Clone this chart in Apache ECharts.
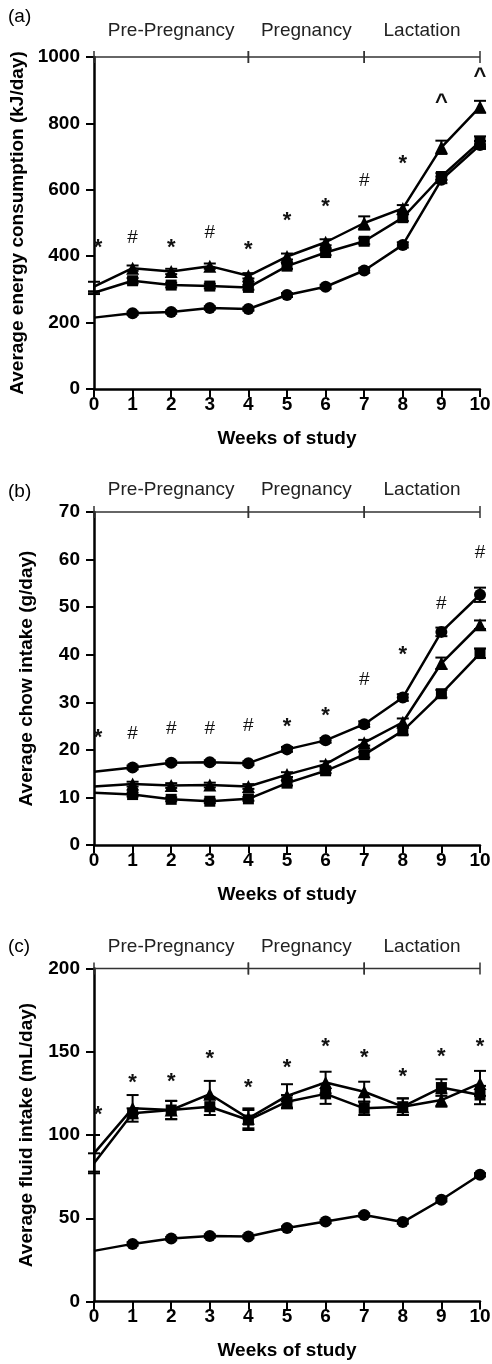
<!DOCTYPE html>
<html><head><meta charset="utf-8">
<script src="https://cdn.jsdelivr.net/npm/echarts@6/dist/echarts.min.js"></script>
<style>html,body{margin:0;padding:0;background:#fff}#c{width:492px;height:1364px}</style>
</head><body><div id="c"></div>
<script>
// ---------- data ----------
const weeks = [0,1,2,3,4,5,6,7,8,9,10];
const phaseNames = ['Pre-Pregnancy','Pregnancy','Lactation'];
const phaseBounds = [0,4,7,10];
const panelLetters = ['(a)','(b)','(c)'];
const yNames = ['Average energy consumption (kJ/day)','Average chow intake (g/day)','Average fluid intake (mL/day)'];
const xName = 'Weeks of study';
const yMaxes = [1000,70,200];
const yIntervals = [200,10,50];

// (a) energy consumption (kJ/day)
const energyCircle   = [215,228,232,244,241,283,308,357,434,630,735];
const energyCircleErr= [0,5,5,5,5,6,6,7,8,10,12];
const energySquare   = [290,326,313,310,306,370,411,445,516,640,745];
const energySquareErr= [4,8,7,7,7,8,8,9,10,10,16];
const energyTri      = [308,364,354,370,341,399,442,500,544,728,850];
const energyTriErr   = [15,8,8,8,8,9,9,20,10,20,18];
const energyNotes    = ['*','#','*','#','*','*','*','#','*','^','^'];
const energyNoteY    = [440,457,440,470,435,520,563,626,694,877,955];

// (b) chow intake (g/day)
const chowCircle   = [15.4,16.3,17.3,17.4,17.2,20.1,22.0,25.4,31.0,44.8,52.6];
const chowCircleErr= [0,0.4,0.4,0.4,0.4,0.5,0.5,0.6,0.7,0.9,1.5];
const chowSquare   = [11.0,10.6,9.6,9.2,9.7,13.0,15.6,19.0,24.0,31.8,40.3];
const chowSquareErr= [0,0.4,0.4,0.4,0.4,0.5,0.5,0.6,0.8,0.8,1.0];
const chowTri      = [12.3,12.8,12.5,12.6,12.3,14.8,17.0,21.5,25.8,38.2,46.3];
const chowTriErr   = [0,0.5,0.5,0.5,0.5,0.5,0.6,0.6,0.8,1.2,0.9];
const chowNotes    = ['*','#','#','#','#','*','*','#','*','#','#'];
const chowNoteY    = [23.5,23.3,24.4,24.4,25.0,25.9,28.2,34.7,41.1,50.8,61.5];

// (c) fluid intake (mL/day)
const fluidCircle   = [30.4,34.6,37.8,39.3,39.0,44.1,48.0,51.9,47.7,61.1,76.1];
const fluidCircleErr= [0,1,1,1,1,1,1,1,1,1,1];
const fluidSquare   = [83,113,115,117,109,120,124.7,116,117,128.5,124];
const fluidSquareErr= [6,3,5.5,5,6,4,6,4,5,5,5.5];
const fluidTri      = [89,116,115,124.5,110,123.5,131.5,126,117,121,131];
const fluidTriErr   = [11,8,5.5,8,6,7,6.5,6,5,4,7.5];
const fluidNotes    = ['*','*','*','*','*','*','*','*','*','*','*'];
const fluidNoteY    = [115,134,135,148.7,131,143.5,156,149.5,138,150,156];

// ---------- layout / style ----------
const FONT = "'Liberation Sans', Arial, Helvetica, sans-serif";
const gridTops = [57,512,968.5];
const gridHeights = [332,333,333];
const phaseTextGap = [26,22.5,22];
const letterTops = [7,482,937];

const panels = [
  {c:energyCircle,ce:energyCircleErr,s:energySquare,se:energySquareErr,t:energyTri,te:energyTriErr,n:energyNotes,ny:energyNoteY},
  {c:chowCircle,ce:chowCircleErr,s:chowSquare,se:chowSquareErr,t:chowTri,te:chowTriErr,n:chowNotes,ny:chowNoteY},
  {c:fluidCircle,ce:fluidCircleErr,s:fluidSquare,se:fluidSquareErr,t:fluidTri,te:fluidTriErr,n:fluidNotes,ny:fluidNoteY}
];

const grids=[], xAxes=[], yAxes=[], series=[], titles=[];

function lineSeries(i, vals, symbol, size){
  return {
    type:'line', xAxisIndex:i, yAxisIndex:i, symbol:symbol, symbolSize:size,
    lineStyle:{color:'#000', width:2.5}, itemStyle:{color:'#000'},
    showAllSymbol:true, animation:false, z:3,
    data: weeks.map((w,j)=> j===0 ? {value:[w,vals[j]], symbol:'none'} : [w, vals[j]])
  };
}
function errSeries(i, vals, errs){
  return {
    type:'custom', xAxisIndex:i, yAxisIndex:i, animation:false, z:4, clip:false,
    data: weeks.map((w,j)=>[w, vals[j]-errs[j], vals[j]+errs[j]]),
    renderItem:function(params, api){
      const x = api.value(0);
      if (api.value(2) - api.value(1) <= 0) return null;
      const lo = api.coord([x, api.value(1)]);
      const hi = api.coord([x, api.value(2)]);
      const hw = 6;
      const st = {stroke:'#000', lineWidth:2};
      return {type:'group', children:[
        {type:'line', shape:{x1:lo[0],y1:lo[1],x2:hi[0],y2:hi[1]}, style:st},
        {type:'line', shape:{x1:lo[0]-hw,y1:lo[1],x2:lo[0]+hw,y2:lo[1]}, style:st},
        {type:'line', shape:{x1:hi[0]-hw,y1:hi[1],x2:hi[0]+hw,y2:hi[1]}, style:st}
      ]};
    }
  };
}

panels.forEach((p,i)=>{
  grids.push({left:94, width:386, top:gridTops[i], height:gridHeights[i], containLabel:false, outerBoundsMode:'none'});
  xAxes.push({
    type:'value', gridIndex:i, min:0, max:10, interval:1,
    axisLine:{show:true, onZero:false, lineStyle:{color:'#000', width:2.5}},
    axisTick:{show:true, length:8, lineStyle:{color:'#000', width:2}},
    axisLabel:{fontSize:19, fontWeight:'bold', color:'#000', margin:6, fontFamily:FONT, formatter:(v)=>String(v)},
    splitLine:{show:false},
    name:xName, nameLocation:'middle', nameGap:40,
    nameTextStyle:{fontSize:19, fontWeight:'bold', color:'#000', fontFamily:FONT}
  });
  yAxes.push({
    type:'value', gridIndex:i, min:0, max:yMaxes[i], interval:yIntervals[i],
    axisLine:{show:true, lineStyle:{color:'#000', width:2.5}},
    axisTick:{show:true, length:8, lineStyle:{color:'#000', width:2}},
    axisLabel:{fontSize:19, fontWeight:'bold', color:'#000', margin:14, fontFamily:FONT, formatter:(v)=>String(v)},
    splitLine:{show:false},
    name:yNames[i], nameLocation:'middle', nameGap:58,
    nameTextStyle:{fontSize:19, fontWeight:'bold', color:'#000', fontFamily:FONT}
  });
  titles.push({text:panelLetters[i], left:8, top:letterTops[i], padding:0,
    textStyle:{fontSize:19, fontWeight:'normal', color:'#000', fontFamily:FONT}});

  series.push(lineSeries(i, p.c, 'circle', 12));
  series.push(lineSeries(i, p.s, 'rect', 11));
  series.push(lineSeries(i, p.t, 'triangle', 13));
  series.push(errSeries(i, p.c, p.ce));
  series.push(errSeries(i, p.s, p.se));
  series.push(errSeries(i, p.t, p.te));

  // phase bracket
  const yTop = yMaxes[i];
  const gap = phaseTextGap[i];
  series.push({
    type:'custom', xAxisIndex:i, yAxisIndex:i, animation:false, z:2, clip:false,
    data: phaseNames.map((n,k)=>[phaseBounds[k], phaseBounds[k+1]]),
    renderItem:function(params, api){
      const a = api.coord([api.value(0), yTop]);
      const b = api.coord([api.value(1), yTop]);
      const st = {stroke:'#333', lineWidth:1.5};
      return {type:'group', children:[
        {type:'line', shape:{x1:a[0],y1:a[1],x2:b[0],y2:b[1]}, style:st},
        {type:'line', shape:{x1:a[0],y1:a[1]-6,x2:a[0],y2:a[1]+6}, style:st},
        {type:'line', shape:{x1:b[0],y1:b[1]-6,x2:b[0],y2:b[1]+6}, style:st},
        {type:'text', x:(a[0]+b[0])/2, y:a[1]-gap, style:{text:phaseNames[params.dataIndex],
          font:'19px '+FONT, fill:'#222', textAlign:'center', textVerticalAlign:'middle'}}
      ]};
    }
  });
  // significance annotations
  const notes = p.n;
  series.push({
    type:'custom', xAxisIndex:i, yAxisIndex:i, animation:false, z:5, clip:false,
    data: weeks.map((w,j)=>[w, p.ny[j]]),
    renderItem:function(params, api){
      const pt = api.coord([api.value(0), api.value(1)]);
      const ch = notes[params.dataIndex];
      const dy = ch==='*' ? 5 : (ch==='^' ? 5 : 0);
      const dx = params.dataIndex===0 ? 4 : 0;
      const font = ch==='*' ? 'bold 22px ' : (ch==='^' ? 'bold 22px ' : '19px ');
      return {type:'text', x:pt[0]+dx, y:pt[1]+dy, style:{text:ch,
        font:font+FONT, fill:'#111', textAlign:'center', textVerticalAlign:'middle'}};
    }
  });
});

const chart = echarts.init(document.getElementById('c'), null, {renderer:'canvas'});
chart.setOption({
  animation:false, backgroundColor:'#fff',
  title:titles, grid:grids, xAxis:xAxes, yAxis:yAxes, series:series
});
</script></body></html>
